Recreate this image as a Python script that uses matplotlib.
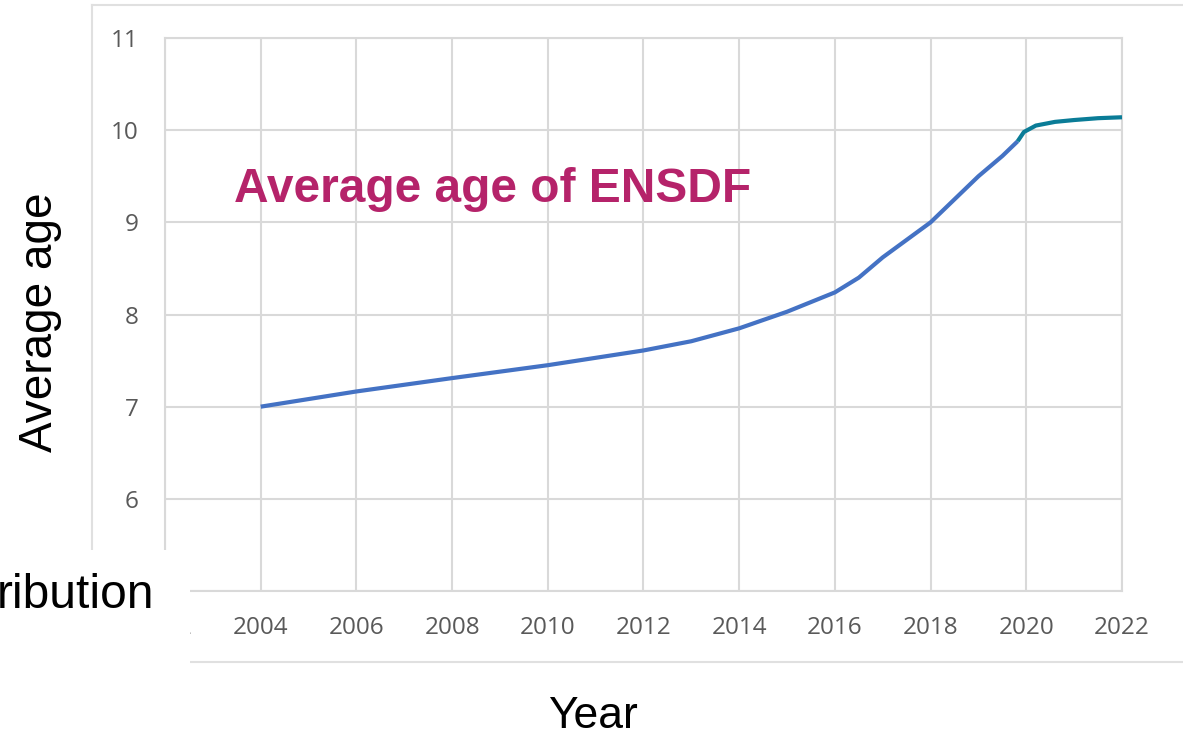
import matplotlib

matplotlib.use("Agg")

import matplotlib.pyplot as plt  # noqa: E402
from matplotlib.lines import Line2D  # noqa: E402
from matplotlib.patches import Rectangle  # noqa: E402

# values
blue_years = [2004, 2006, 2008, 2010, 2012, 2013, 2014, 2015, 2016, 2016.5, 2017,
              2017.5, 2018, 2018.5, 2019, 2019.5, 2019.82]
blue_age = [7.0, 7.165, 7.31, 7.45, 7.61, 7.71, 7.85, 8.03, 8.24, 8.40, 8.62,
            8.81, 9.0, 9.25, 9.5, 9.72, 9.88]
teal_years = [2019.82, 2019.95, 2020.2, 2020.6, 2021, 2021.5, 2022]
teal_age = [9.88, 9.98, 10.05, 10.09, 10.11, 10.13, 10.14]
x_ticks = [2002, 2004, 2006, 2008, 2010, 2012, 2014, 2016, 2018, 2020, 2022]
y_ticks = [5, 6, 7, 8, 9, 10, 11]

W, H = 1183, 738
GRID = "#d9d9d9"
TICK = "#595959"


def fx(px):
    return px / W


def fy(py):
    return 1 - py / H


fig = plt.figure(figsize=(W / 100, H / 100), dpi=100)
ax = fig.add_axes([fx(165), fy(591), fx(1122) - fx(165), fy(38) - fy(591)])

ax.plot(blue_years, blue_age, color="#4472c4", lw=3, solid_capstyle="butt",
        solid_joinstyle="round", zorder=3)
ax.plot(teal_years, teal_age, color="#0a7c97", lw=3, solid_capstyle="butt",
        solid_joinstyle="round", zorder=4)

ax.set_xlim(2002, 2022)
ax.set_ylim(5, 11)
ax.set_xticks(x_ticks)
ax.set_yticks(y_ticks)
ax.set_yticklabels(["" if v == 5 else str(v) for v in y_ticks])
ax.grid(True, color=GRID, lw=1.5)
ax.set_axisbelow(True)
for s in ax.spines.values():
    s.set_color(GRID)
    s.set_linewidth(1.5)
ax.tick_params(length=0, colors=TICK, labelsize=17.5)
ax.tick_params(axis="x", pad=18)
ax.tick_params(axis="y", pad=19)
for lab in ax.get_xticklabels() + ax.get_yticklabels():
    lab.set_fontfamily("Open Sans")

ax.text(2003.45, 9.36, "Average age of ENSDF", color="#b5236a", fontsize=34.5,
        fontweight="bold", family="Liberation Sans", va="center", ha="left")

# outer chart-area frame
frame_kw = dict(color="#e0e0e0", lw=1.5, transform=fig.transFigure)
fig.add_artist(Line2D([fx(92), 1.0], [fy(5), fy(5)], **frame_kw))
fig.add_artist(Line2D([fx(92), fx(92)], [fy(5), fy(662)], **frame_kw))
fig.add_artist(Line2D([fx(92), 1.0], [fy(662), fy(662)], **frame_kw))

# white patch over the lower-left corner (slide overlay)
cover = Rectangle((0, 0), fx(190), fy(550), transform=fig.transFigure,
                  facecolor="white", edgecolor="none", zorder=5)
fig.add_artist(cover)

fig.text(fx(154), fy(596), "ribution", fontsize=34.5, family="Liberation Sans",
         ha="right", va="center", zorder=6)
fig.text(fx(40), fy(322), "Average age", fontsize=33, family="Liberation Sans",
         rotation=90, ha="center", va="center")
fig.text(fx(593), fy(716), "Year", fontsize=32, family="Liberation Sans",
         ha="center", va="center")

fig.savefig("out.png", dpi=100, facecolor="white")
